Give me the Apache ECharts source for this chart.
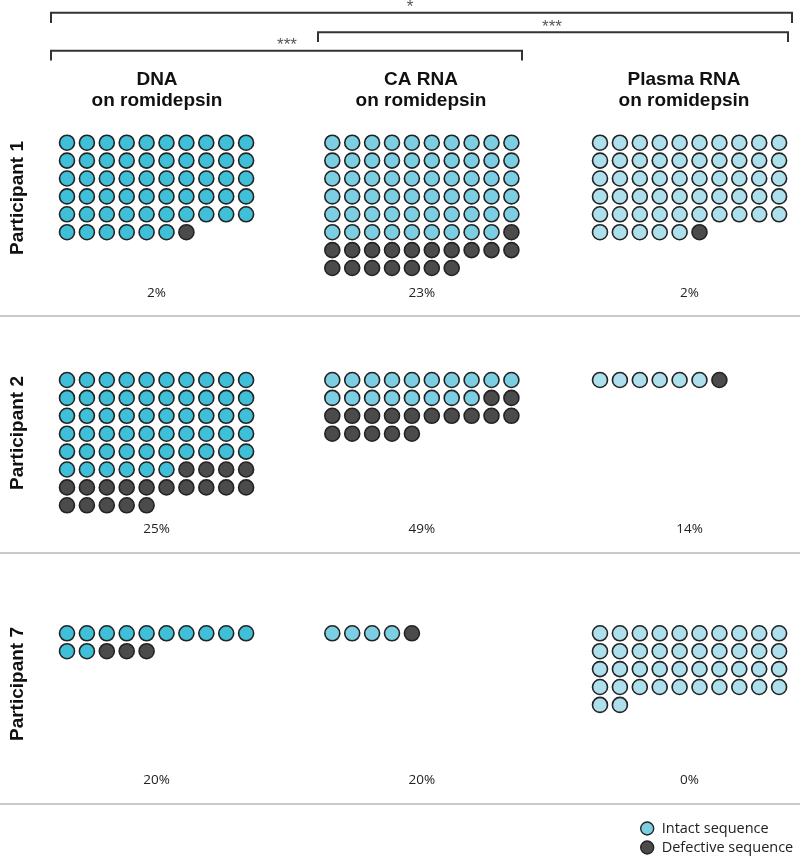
<!DOCTYPE html>
<html>
<head>
<meta charset="utf-8">
<script src="https://cdn.jsdelivr.net/npm/echarts@6/dist/echarts.min.js"></script>
<style>
html,body{margin:0;padding:0;background:#fff;}
#chart{width:800px;height:856px;}
</style>
</head>
<body>
<div id="chart"></div>
<script>
// ---- data ----
const participants = ['Participant 1', 'Participant 2', 'Participant 7'];
const sampleTypes = ['DNA', 'CA RNA', 'Plasma RNA'];
const sampleSubtitle = 'on romidepsin';
// rows = participants, columns = sample types
const intactCounts = [
  [56, 59, 55],
  [56, 18, 6],
  [12, 4, 42]
];
const defectiveCounts = [
  [1, 18, 1],
  [19, 17, 1],
  [3, 1, 0]
];
const comparisons = [
  { from: 0, to: 2, label: '*' },
  { from: 1, to: 2, label: '***' },
  { from: 0, to: 1, label: '***' }
];
const legendNames = ['Intact sequence', 'Defective sequence'];

// ---- layout / style ----
const perRow = 10;
const dx = 19.9, dy = 17.9;
const colFirstX = [67, 332.3, 600];
const rowFirstY = [142.7, 380, 633.3];
const pctY = [293, 529, 780];
const sepY = [316, 553, 804];
const labelCY = [198, 433, 684];
const headerCX = [157, 421, 684];
const intactColors = ['#3fbfd8', '#7ccfe3', '#ade0ec'];
const defColor = '#4b4b4b';
const edge = '#232323';

const grids = [], xAxes = [], yAxes = [], series = [];
let gi = 0;
for (let r = 0; r < participants.length; r++) {
  for (let c = 0; c < sampleTypes.length; c++) {
    grids.push({ left: colFirstX[c] - dx / 2, top: rowFirstY[r] - dy / 2, width: dx * perRow, height: dy * 8 });
    xAxes.push({ gridIndex: gi, type: 'value', min: -0.5, max: perRow - 0.5, show: false });
    yAxes.push({ gridIndex: gi, type: 'value', min: -0.5, max: 7.5, inverse: true, show: false });
    const nI = intactCounts[r][c], nD = defectiveCounts[r][c];
    const ptsI = [], ptsD = [];
    for (let k = 0; k < nI + nD; k++) {
      const p = [k % perRow, Math.floor(k / perRow)];
      (k < nI ? ptsI : ptsD).push(p);
    }
    series.push({
      name: legendNames[0], type: 'scatter', xAxisIndex: gi, yAxisIndex: gi,
      data: ptsI, symbol: 'circle', symbolSize: 15, silent: true,
      itemStyle: { color: intactColors[c], borderColor: edge, borderWidth: 1.6, opacity: 1 }
    });
    series.push({
      name: legendNames[1], type: 'scatter', xAxisIndex: gi, yAxisIndex: gi,
      data: ptsD, symbol: 'circle', symbolSize: 15, silent: true,
      itemStyle: { color: defColor, borderColor: edge, borderWidth: 1.6, opacity: 1 }
    });
    gi++;
  }
}

const graphic = [];
// brackets
const brLeft = [51, 318, 51], brRight = [792, 788, 522], brY = [12.7, 32.3, 50.7], brTickBot = [23, 42, 60.5];
const brLabelX = [410, 552, 287], brLabelY = [7, 27, 45];
comparisons.forEach((cmp, i) => {
  graphic.push({
    type: 'polyline',
    shape: { points: [[brLeft[i], brTickBot[i]], [brLeft[i], brY[i]], [brRight[i], brY[i]], [brRight[i], brTickBot[i]]] },
    style: { stroke: '#333', lineWidth: 2, fill: null }
  });
  graphic.push({
    type: 'text', x: brLabelX[i], y: brLabelY[i],
    style: { text: cmp.label, font: '17px "Liberation Sans", Arial, sans-serif', fill: '#555', textAlign: 'center', textVerticalAlign: 'middle' }
  });
});
// headers
sampleTypes.forEach((s, c) => {
  graphic.push({
    type: 'text', x: headerCX[c], y: 80,
    style: { text: s, font: 'bold 19px "Liberation Sans", Arial, sans-serif', fill: '#111', textAlign: 'center', textVerticalAlign: 'middle' }
  });
  graphic.push({
    type: 'text', x: headerCX[c], y: 101,
    style: { text: sampleSubtitle, font: 'bold 19px "Liberation Sans", Arial, sans-serif', fill: '#111', textAlign: 'center', textVerticalAlign: 'middle' }
  });
});
// participant labels, percentages, separators
participants.forEach((p, r) => {
  graphic.push({
    type: 'text', x: 18, y: labelCY[r], rotation: Math.PI / 2,
    style: { text: p, font: 'bold 19px "Liberation Sans", Arial, sans-serif', fill: '#111', textAlign: 'center', textVerticalAlign: 'middle' }
  });
  sampleTypes.forEach((s, c) => {
    const nI = intactCounts[r][c], nD = defectiveCounts[r][c];
    const pct = Math.round(nD / (nI + nD) * 100) + '%';
    graphic.push({
      type: 'text', x: colFirstX[c] + dx * (perRow - 1) / 2, y: pctY[r],
      style: { text: pct, font: '13.5px "Open Sans", sans-serif', fill: '#222', textAlign: 'center', textVerticalAlign: 'middle' }
    });
  });
  graphic.push({
    type: 'line', shape: { x1: 0, y1: sepY[r], x2: 800, y2: sepY[r] },
    style: { stroke: '#b2b8b8', lineWidth: 1.5 }
  });
});

const chart = echarts.init(document.getElementById('chart'), null, { renderer: 'canvas' });
chart.setOption({
  animation: false,
  backgroundColor: '#fff',
  grid: grids, xAxis: xAxes, yAxis: yAxes, series: series,
  legend: {
    orient: 'vertical', left: 640, top: 821, padding: 0, height: 40,
    itemWidth: 13, itemHeight: 13, itemGap: 4,
    icon: 'circle',
    data: [
      { name: legendNames[0], itemStyle: { color: intactColors[1], borderColor: edge, borderWidth: 1.4 } },
      { name: legendNames[1], itemStyle: { color: defColor, borderColor: edge, borderWidth: 1.4 } }
    ],
    textStyle: { fontFamily: '"Open Sans", sans-serif', fontSize: 14.5, color: '#222', padding: [0, 0, 0, 3] },
    selectedMode: false
  },
  graphic: graphic
});
</script>
</body>
</html>
